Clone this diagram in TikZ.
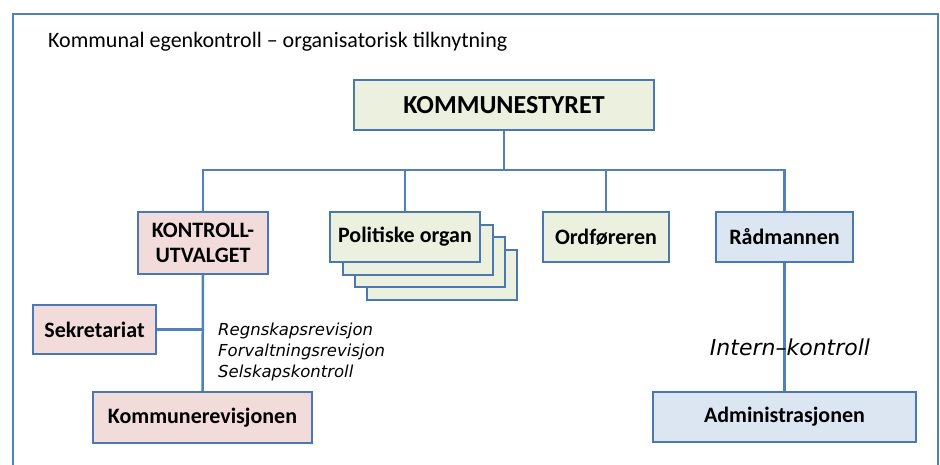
\documentclass[tikz,border=0pt]{standalone}
\usepackage{fontspec}
\setmainfont{Carlito}
\newfontfamily\handfont{DejaVu Sans}
\definecolor{linec}{HTML}{4F81BD}
\definecolor{boxc}{HTML}{4A78B0}
\definecolor{gfill}{HTML}{EBF1DE}
\definecolor{pfill}{HTML}{F2DCDB}
\definecolor{bfill}{HTML}{DCE6F2}
\tikzset{
  box/.style={draw=boxc, line width=2pt, inner sep=0pt, align=center,
    font=\bfseries\fontsize{22}{25}\selectfont},
  conn/.style={draw=linec, line width=2.5pt},
  note/.style={font=\handfont\itshape\fontsize{16.5}{21}\selectfont, inner sep=0pt, align=left}
}
\begin{document}
\begin{tikzpicture}[x=1pt,y=-1pt]
\useasboundingbox (0,0) rectangle (940,464);
\fill[white] (0,0) rectangle (940,464);
\draw[linec, line width=2pt] (13,14) rectangle (938,480);
\node[anchor=base west, inner sep=0pt, font=\fontsize{22}{25}\selectfont] (title) at (48,47) {Kommunal egenkontroll – organisatorisk tilknytning};

\node[box, fill=gfill, minimum width=300pt, minimum height=50pt, font=\bfseries\fontsize{26}{28}\selectfont] (ks) at (504,105) {KOMMUNESTYRET};
\coordinate (j) at (504,170);

\node[box, fill=pfill, minimum width=130pt, minimum height=62pt] (ku) at (203,243) {KONTROLL-\\UTVALGET};
\node[box, fill=gfill, minimum width=150pt, minimum height=50pt] (po3) at (442,275) {};
\node[box, fill=gfill, minimum width=150pt, minimum height=50pt] (po2) at (430,262) {};
\node[box, fill=gfill, minimum width=150pt, minimum height=50pt] (po1) at (418,250) {};
\node[box, fill=gfill, minimum width=150pt, minimum height=50pt] (po) at (405,237) {Politiske organ};
\node[box, fill=gfill, minimum width=126pt, minimum height=50pt] (or) at (606,237) {Ordføreren};
\node[box, fill=bfill, minimum width=137pt, minimum height=50pt] (ra) at (784.5,237) {Rådmannen};

\node[box, fill=pfill, minimum width=123pt, minimum height=49pt] (sek) at (94.5,329.5) {Sekretariat};
\node[box, fill=pfill, minimum width=219pt, minimum height=51pt] (kr) at (202.5,417.5) {Kommunerevisjonen};
\node[box, fill=bfill, minimum width=263pt, minimum height=50pt] (adm) at (784.5,417) {Administrasjonen};

\draw[conn] (ks.south) -- (j);
\draw[conn] (ku.north) -- (ku.north |- j) -| (ra.north);
\draw[conn] (po.north) -- (po.north |- j);
\draw[conn] (or.north) -- (or.north |- j);
\draw[conn] (ku.south) -- (kr.north);
\draw[conn] (sek.east) -- (sek.east -| ku.south);
\draw[conn] (ra.south) -- (ra.south |- adm.north);

\node[note, anchor=west] (rev) at (218,352) {Regnskapsrevisjon\\Forvaltningsrevisjon\\Selskapskontroll};
\node[note, font=\handfont\itshape\fontsize{22}{24}\selectfont] (ik) at (790,347) {Intern–kontroll};
\end{tikzpicture}
\end{document}
